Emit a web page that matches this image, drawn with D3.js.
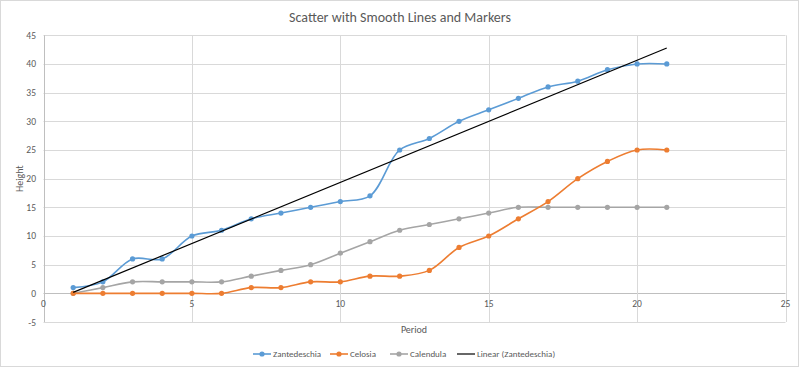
<!DOCTYPE html>
<html>
<head>
<meta charset="utf-8">
<script src="https://cdn.jsdelivr.net/npm/d3@7"></script>
<style>
  body { margin: 0; background: #fff; }
  svg { font-family: Calibri, Carlito, "Open Sans", sans-serif; }
</style>
</head>
<body>
<div id="chart"></div>
<script>
  // data
  var periods = [1,2,3,4,5,6,7,8,9,10,11,12,13,14,15,16,17,18,19,20,21]
  var zantedeschia = [1,2,6,6,10,11,13,14,15,16,17,25,27,30,32,34,36,37,39,40,40]
  var celosia = [0,0,0,0,0,0,1,1,2,2,3,3,4,8,10,13,16,20,23,25,25]
  var calendula = [0,1,2,2,2,2,3,4,5,7,9,11,12,13,14,15,15,15,15,15,15]
  var xTicks = [0,5,10,15,20,25]
  var yTicks = [-5,0,5,10,15,20,25,30,35,40,45]

  var series = [
    {name: 'Zantedeschia', values: zantedeschia, color: '#5b9bd5'},
    {name: 'Celosia', values: celosia, color: '#ed7d31'},
    {name: 'Calendula', values: calendula, color: '#a5a5a5'}
  ]

  var width = 800, height = 368
  var svg = d3.select('#chart').append('svg')
    .attr('width', width).attr('height', height)

  svg.append('rect')
    .attr('x', 0.5).attr('y', 0.5)
    .attr('width', width - 2).attr('height', height - 2)
    .attr('fill', '#fff').attr('stroke', '#d9d9d9')

  var x = d3.scaleLinear().domain([0, 25]).range([43.5, 785.5])
  var y = d3.scaleLinear().domain([-5, 45]).range([322, 35.3])

  // grid
  var grid = svg.append('g')
  grid.selectAll('line.h').data(yTicks).enter().append('line')
    .attr('x1', x(0)).attr('x2', x(25))
    .attr('y1', d => Math.round(y(d)) + 0.5).attr('y2', d => Math.round(y(d)) + 0.5)
    .attr('stroke', d => d === 0 ? '#bfbfbf' : '#d9d9d9').attr('stroke-width', 1)
  grid.selectAll('line.v').data(xTicks).enter().append('line')
    .attr('y1', y(-5)).attr('y2', y(45))
    .attr('x1', d => Math.round(x(d)) + 0.5).attr('x2', d => Math.round(x(d)) + 0.5)
    .attr('stroke', d => d === 0 ? '#bfbfbf' : '#d9d9d9').attr('stroke-width', 1)

  // tick labels
  svg.append('g').selectAll('text').data(yTicks).enter().append('text')
    .attr('x', 36).attr('y', d => y(d) + 3.5)
    .attr('text-anchor', 'end').attr('font-size', 9.5).attr('fill', '#595959')
    .text(d => d)
  svg.append('g').selectAll('text').data(xTicks).enter().append('text')
    .attr('x', d => x(d)).attr('y', y(0) + 14)
    .attr('text-anchor', 'middle').attr('font-size', 9.5).attr('fill', '#595959')
    .text(d => d)

  // titles
  svg.append('text').attr('x', 400).attr('y', 22)
    .attr('text-anchor', 'middle').attr('font-size', 14).attr('fill', '#595959')
    .text('Scatter with Smooth Lines and Markers')
  svg.append('text').attr('x', 414).attr('y', 333)
    .attr('text-anchor', 'middle').attr('font-size', 10).attr('fill', '#595959')
    .text('Period')
  svg.append('text')
    .attr('transform', 'translate(23,' + y(20) + ') rotate(-90)')
    .attr('text-anchor', 'middle').attr('font-size', 10).attr('fill', '#595959')
    .text('Height')

  // series
  var line = d3.line()
    .x((d, i) => x(periods[i]))
    .y(d => y(d))
    .curve(d3.curveCatmullRom.alpha(0.5))

  series.slice().reverse().forEach(function(s) {
    var g = svg.append('g')
    g.append('path').attr('d', line(s.values))
      .attr('fill', 'none').attr('stroke', s.color).attr('stroke-width', 1.6)
    g.selectAll('circle').data(s.values).enter().append('circle')
      .attr('cx', (d, i) => x(periods[i])).attr('cy', d => y(d))
      .attr('r', 2.6).attr('fill', s.color)
  })

  // linear trendline on Zantedeschia
  var mx = d3.mean(periods), my = d3.mean(zantedeschia)
  var sxy = d3.sum(periods, (p, i) => (p - mx) * (zantedeschia[i] - my))
  var sxx = d3.sum(periods, p => (p - mx) * (p - mx))
  var slope = sxy / sxx, icpt = my - slope * mx
  var x0 = periods[0], x1 = periods[periods.length - 1]
  svg.append('line')
    .attr('x1', x(x0)).attr('y1', y(icpt + slope * x0))
    .attr('x2', x(x1)).attr('y2', y(icpt + slope * x1))
    .attr('stroke', '#000').attr('stroke-width', 1.2)

  // legend
  var legend = [
    {name: 'Zantedeschia', color: '#5b9bd5', x: 253, marker: true},
    {name: 'Celosia', color: '#ed7d31', x: 330, marker: true},
    {name: 'Calendula', color: '#a5a5a5', x: 390, marker: true},
    {name: 'Linear (Zantedeschia)', color: '#000', x: 457, marker: false}
  ]
  var lg = svg.append('g').selectAll('g').data(legend).enter().append('g')
    .attr('transform', d => 'translate(' + d.x + ',354)')
  lg.append('line').attr('x1', 0).attr('x2', 18).attr('y1', 0).attr('y2', 0)
    .attr('stroke', d => d.color).attr('stroke-width', d => d.marker ? 1.6 : 1.2)
  lg.filter(d => d.marker).append('circle').attr('cx', 9).attr('cy', 0).attr('r', 2.6)
    .attr('fill', d => d.color)
  lg.append('text').attr('x', 20).attr('y', 3)
    .attr('font-size', 9).attr('fill', '#595959')
    .text(d => d.name)
</script>
</body>
</html>
